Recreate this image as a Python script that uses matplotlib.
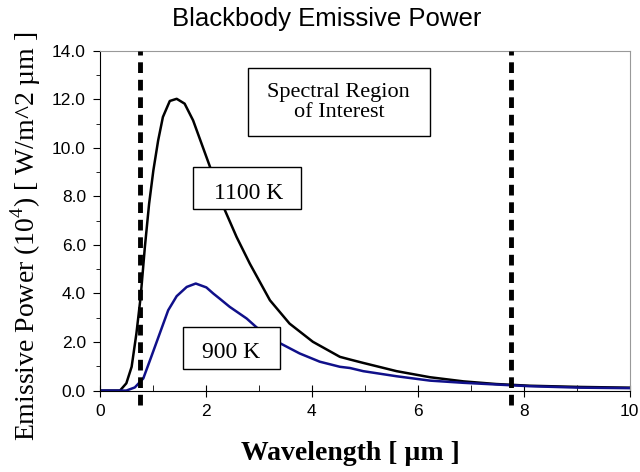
import matplotlib.pyplot as plt
from matplotlib.patches import Rectangle

# values (wavelength in um, power in 10^4 W/m^2 um)
wl_1100 = [0.0, 0.38, 0.50, 0.60, 0.69, 0.77, 0.85, 0.93, 1.01, 1.10, 1.19, 1.32, 1.45,
           1.60, 1.76, 1.92, 2.08, 2.36, 2.58, 2.83, 3.21, 3.58, 4.02, 4.53, 4.72, 4.97,
           5.6, 6.23, 6.86, 7.48, 8.11, 9.06, 10.0]
p_1100 = [0.0, 0.0, 0.3, 0.98, 2.35, 3.86, 5.92, 7.7, 9.07, 10.3, 11.27, 11.93, 12.02,
          11.82, 11.13, 10.17, 9.21, 7.43, 6.33, 5.23, 3.72, 2.76, 2.01, 1.39, 1.28, 1.14,
          0.8, 0.55, 0.38, 0.27, 0.2, 0.15, 0.12]

wl_900 = [0.0, 0.50, 0.66, 0.82, 0.97, 1.13, 1.29, 1.45, 1.64, 1.81, 2.01, 2.14, 2.26,
          2.45, 2.77, 2.96, 3.41, 3.77, 4.15, 4.53, 4.72, 4.97, 5.6, 6.23, 6.86, 7.48,
          8.11, 9.06, 10.0]
p_900 = [0.0, 0.0, 0.13, 0.5, 1.39, 2.35, 3.31, 3.89, 4.27, 4.41, 4.25, 4.0, 3.79,
         3.45, 2.97, 2.6, 1.94, 1.53, 1.19, 0.98, 0.93, 0.8, 0.59, 0.41, 0.32, 0.25,
         0.18, 0.12, 0.1]

region_edges = [0.75, 7.75]

plt.rcParams['mathtext.fontset'] = 'custom'
plt.rcParams['mathtext.rm'] = 'Liberation Serif'

fig = plt.figure(figsize=(6.4, 4.72), dpi=100)
ax = fig.add_axes([0.156, 0.1725, 0.828, 0.72])

ax.plot(wl_1100, p_1100, color='black', lw=1.8, solid_joinstyle='round')
ax.plot(wl_900, p_900, color='#10108a', lw=1.8, solid_joinstyle='round')

for xe in region_edges:
    ax.plot([xe, xe], [-0.6, 14.0], color='black', lw=3.5,
            linestyle=(0, (2.2, 1.4)), clip_on=False, zorder=4)

# label boxes (data coords)
for (x0, y0, w, h) in [(2.80, 10.47, 3.43, 2.83), (1.76, 7.50, 2.03, 1.69),
                       (1.56, 0.885, 1.84, 1.715)]:
    ax.add_patch(Rectangle((x0, y0), w, h, facecolor='white', edgecolor='black',
                           lw=1, zorder=5))
ax.text(4.51, 11.88, 'Spectral Region\nof Interest', ha='center', va='center',
        family='Liberation Serif', fontsize=16, linespacing=1.1, zorder=6)
ax.text(2.80, 7.91, '1100 K', ha='center', va='baseline', family='Liberation Serif',
        fontsize=17, zorder=6)
ax.text(2.47, 1.33, '900 K', ha='center', va='baseline', family='Liberation Serif',
        fontsize=17, zorder=6)

ax.set_xlim(0, 10)
ax.set_ylim(0, 14)
ax.set_xticks(range(0, 11, 2))
ax.set_xticks(range(1, 10, 2), minor=True)
ax.set_yticks([i * 2.0 for i in range(8)])
ax.set_yticks(range(1, 14, 2), minor=True)
ax.set_yticklabels(['%.1f' % (i * 2.0) for i in range(8)])
ax.tick_params(axis='x', which='major', direction='inout', length=8, labelsize=12.5, pad=6)
ax.tick_params(axis='x', which='minor', direction='in', length=4)
ax.tick_params(axis='y', which='major', direction='out', length=5, labelsize=12.5, pad=5)
ax.tick_params(axis='y', which='minor', direction='out', length=3)
for lab in ax.get_xticklabels() + ax.get_yticklabels():
    lab.set_family('Liberation Sans')

for s in ['top', 'right']:
    ax.spines[s].set_color('#999999')
    ax.spines[s].set_linewidth(0.8)

fig.text(0.51, 0.945, 'Blackbody Emissive Power', ha='center', va='baseline',
         family='Liberation Sans', fontsize=18.5)
fig.text(0.547, 0.025, 'Wavelength [ µm ]', ha='center', va='baseline',
         family='Liberation Serif', fontsize=20, fontweight='bold')
fig.text(0.04, 0.5, 'Emissive Power (10$^4$) [ W/m^2 µm ]', ha='center', va='center',
         rotation=90, family='Liberation Serif', fontsize=20)

fig.savefig('out.png', dpi=100)
